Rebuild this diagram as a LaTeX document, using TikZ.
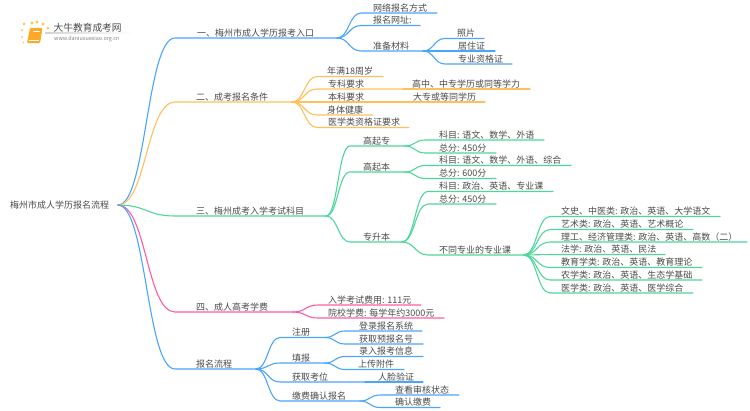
\documentclass[tikz,border=0pt]{standalone}
\usepackage{fontspec}
\setmainfont{Noto Sans CJK SC}
\usetikzlibrary{calc}
\definecolor{cblue}{HTML}{4AA5FF}
\definecolor{corange}{HTML}{FFC05C}
\definecolor{cgreen}{HTML}{4FD69C}
\definecolor{cpink}{HTML}{FF5C9E}
\definecolor{ctext}{HTML}{4A4A4A}
\definecolor{cbook}{HTML}{FFA726}
\definecolor{cdot}{HTML}{FFC548}
\tikzset{
  lbl/.style={anchor=base west,inner sep=0pt,font=\fontsize{9}{9}\selectfont,text=ctext},
  wire/.style={line width=1.1pt,line cap=round},
}
% name, parent, startx, endx, y, textx, colour, text
\newcommand\br[8]{%
  \coordinate (#1-s) at (#3,#5);
  \coordinate (#1-e) at (#4,#5);
  \node[lbl] (#1) at (#6,#5-1.6) {#8};
  \draw[wire,#7] let \p1=(#2-e),\p2=(#1-s),\n1={(\x1+\x2)/2} in
    (\p1) .. controls (\n1,\y1) and (\n1,\y2) .. (\p2) -- (#1-e);
}
\begin{document}
\begin{tikzpicture}[x=1pt,y=-1pt]
\useasboundingbox (0,0) rectangle (750,410);
% logo
\foreach \a/\b/\r in {24/24/1.3,22/30/1.1,22/37/1,23.5/42.5/.8,32/23/1.6,37/22/1.7,43/24/1.6,48/28/1.5}
  \fill[cdot] (\a,\b) circle (\r);
\fill[cbook,rounded corners=1pt] (30,28) -- (42.5,28) -- (40,43) -- (27,43) -- cycle;
\draw[white,line width=.5pt] (29,40.5) -- (39,40.5);
\draw[white,line width=.4pt] (33,31) -- (40,31);
\shade[left color=gray!35,right color=white] (45,32.8) rectangle (133,33.3);
\node[anchor=base west,inner sep=0pt,font=\fontsize{9.7}{10}\selectfont,text=ctext] (logoa) at (53.5,31) {大牛教育成考网};
\node[anchor=base west,inner sep=0pt,font=\fontsize{5.4}{6}\selectfont,text=gray] (logob) at (54,40.5) {www.daniuxuexiao.org.cn};
% root
\coordinate (root-e) at (118,205);
\node[lbl] (root) at (10,208) {梅州市成人学历报名流程};
% level 1
\br{a}{root}{175}{337}{38}{197}{cblue}{一、梅州市成人学历报考入口}
\br{b}{root}{175}{292}{102}{196}{corange}{二、成考报名条件}
\br{c}{root}{175}{326}{216}{196}{cgreen}{三、梅州成考入学考试科目}
\br{d}{root}{175}{293}{312}{196}{cpink}{四、成人高考学费}
\br{e}{root}{175}{256}{369}{196}{cblue}{报名流程}
% a
\br{a1}{a}{361}{437}{13}{373}{cblue}{网络报名方式}
\br{a2}{a}{361}{420}{25.5}{373}{cblue}{报名网址:}
\br{a3}{a}{361}{423}{51}{373}{cblue}{准备材料}
\br{a31}{a3}{445}{484}{38.5}{457}{cblue}{照片}
\br{a32}{a3}{445}{495}{51}{458}{cblue}{居住证}
\br{a33}{a3}{445}{512}{64}{458}{cblue}{专业资格证}
% b
\br{b1}{b}{317}{383}{76.5}{327}{corange}{年满18周岁}
\br{b2}{b}{317}{403}{89}{328}{corange}{专科要求}
\br{b21}{b2}{403}{530}{89}{412}{corange}{高中、中专学历或同等学力}
\br{b3}{b}{317}{403}{102}{328}{corange}{本科要求}
\br{b31}{b3}{403}{485}{102}{413}{corange}{大专或等同学历}
\br{b4}{b}{317}{373}{115}{327}{corange}{身体健康}
\br{b5}{b}{317}{409}{127.5}{328}{corange}{医学类资格证要求}
% c
\br{c1}{c}{350}{405}{146}{363}{cgreen}{高起专}
\br{c11}{c1}{425}{544}{140}{439}{cgreen}{科目: 语文、数学、外语}
\br{c12}{c1}{425}{496}{153}{439}{cgreen}{总分: 450分}
\br{c2}{c}{350}{405}{172}{363}{cgreen}{高起本}
\br{c21}{c2}{425}{571}{165.5}{439}{cgreen}{科目: 语文、数学、外语、综合}
\br{c22}{c2}{425}{496}{178.5}{439}{cgreen}{总分: 600分}
\br{c3}{c}{350}{402}{242}{363}{cgreen}{专升本}
\br{c31}{c3}{428}{553}{191.5}{439}{cgreen}{科目: 政治、英语、专业课}
\br{c32}{c3}{428}{496}{204}{439}{cgreen}{总分: 450分}
\br{c33}{c3}{428}{524}{255}{439}{cgreen}{不同专业的专业课}
\br{f1}{c33}{550}{720}{216.5}{561}{cgreen}{文史、中医类: 政治、英语、大学语文}
\br{f2}{c33}{550}{693}{229.5}{561}{cgreen}{艺术类: 政治、英语、艺术概论}
\br{f3}{c33}{550}{747}{242}{561}{cgreen}{理工、经济管理类: 政治、英语、高数（二）}
\br{f4}{c33}{550}{665}{254.5}{561}{cgreen}{法学: 政治、英语、民法}
\br{f5}{c33}{550}{702}{267.5}{561}{cgreen}{教育学类: 政治、英语、教育理论}
\br{f6}{c33}{550}{702}{280}{561}{cgreen}{农学类: 政治、英语、生态学基础}
\br{f7}{c33}{550}{693}{293}{561}{cgreen}{医学类: 政治、英语、医学综合}
% d
\br{d1}{d}{318}{421}{305}{328}{cpink}{入学考试费用: 111元}
\br{d2}{d}{318}{444}{318}{328}{cpink}{院校学费: 每学年约3000元}
% e
\br{e1}{e}{280}{325}{337.5}{292}{cblue}{注册}
\br{e11}{e1}{345}{422}{331}{359}{cblue}{登录报名系统}
\br{e12}{e1}{345}{423}{344}{359}{cblue}{获取预报名号}
\br{e2}{e}{280}{325}{363}{292}{cblue}{填报}
\br{e21}{e2}{345}{423}{356.5}{359}{cblue}{录入报考信息}
\br{e22}{e2}{345}{404}{369.5}{358}{cblue}{上传附件}
\br{e3}{e}{280}{365}{382}{292}{cblue}{获取考位}
\br{e31}{e3}{365}{423}{382}{378}{cblue}{人脸验证}
\br{e4}{e}{280}{360}{401}{292}{cblue}{缴费确认报名}
\br{e41}{e4}{380}{459}{395}{395}{cblue}{查看审核状态}
\br{e42}{e4}{380}{440}{407.5}{395}{cblue}{确认缴费}
\end{tikzpicture}
\end{document}
